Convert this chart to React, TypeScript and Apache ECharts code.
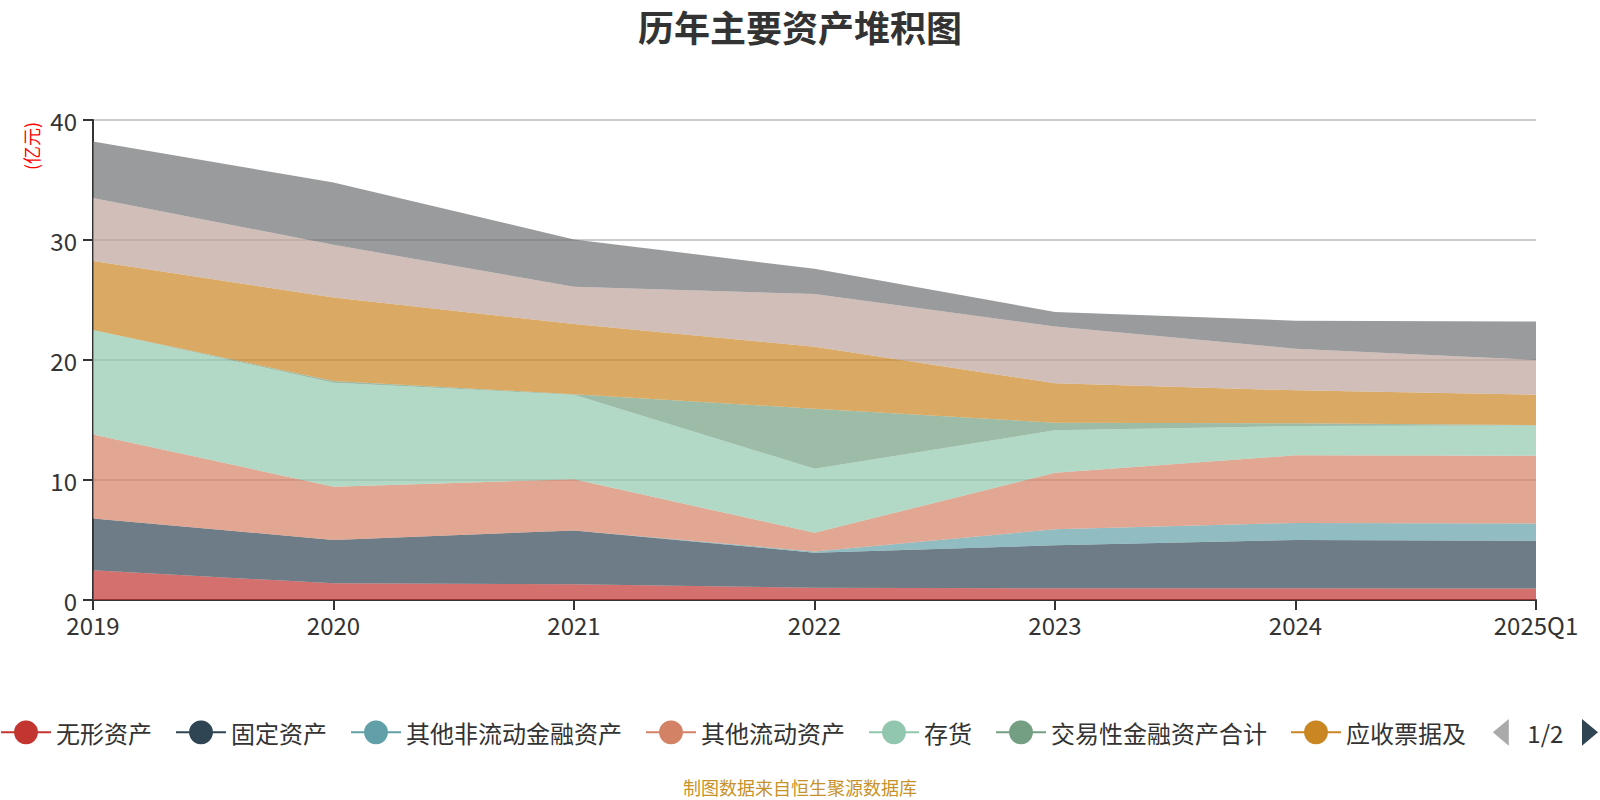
import React, { useEffect, useRef } from "react";
import * as echarts from "echarts";

const categories = ["2019", "2020", "2021", "2022", "2023", "2024", "2025Q1"];
const seriesNames = [
  "无形资产",
  "固定资产",
  "其他非流动金融资产",
  "其他流动资产",
  "存货",
  "交易性金融资产合计",
  "应收票据及",
  "应收账款",
  "货币资金",
];
const intangible = [2.47, 1.39, 1.31, 1.03, 0.97, 0.97, 0.96];
const fixedAssets = [4.33, 3.61, 4.49, 2.91, 3.59, 4.03, 3.97];
const otherNonCurrentFin = [0, 0, 0, 0.1, 1.34, 1.42, 1.44];
const otherCurrent = [7.0, 4.44, 4.26, 1.56, 4.7, 5.64, 5.66];
const inventory = [8.7, 8.66, 7.04, 5.34, 3.54, 2.44, 2.51];
const tradingFin = [0, 0.15, 0.05, 5.0, 0.64, 0.22, 0.03];
const notesReceivable = [5.75, 6.95, 5.85, 5.16, 3.28, 2.75, 2.53];
const accountsReceivable = [5.25, 4.4, 3.1, 4.4, 4.74, 3.47, 2.9];
const cash = [4.7, 5.2, 3.95, 2.1, 1.2, 2.34, 3.2];
const seriesValues = [
  intangible,
  fixedAssets,
  otherNonCurrentFin,
  otherCurrent,
  inventory,
  tradingFin,
  notesReceivable,
  accountsReceivable,
  cash,
];
const yTicks = { min: 0, max: 40, interval: 10 };
const palette = [
  "#c23531",
  "#2f4554",
  "#61a0a8",
  "#d48265",
  "#91c7ae",
  "#749f83",
  "#ca8622",
  "#bda29a",
  "#6e7074",
];

const FONT = "'Noto Sans CJK SC', 'Noto Sans', sans-serif";

export default function App() {
  const ref = useRef<HTMLDivElement>(null);
  useEffect(() => {
    document.body.style.margin = "0";
    if (!ref.current) return;
    const chart = echarts.init(ref.current, null, { renderer: "svg" });
    chart.setOption({
      animation: false,
      color: palette,
      textStyle: { fontFamily: FONT },
      title: {
        text: "历年主要资产堆积图",
        left: "center",
        top: 3,
        textStyle: { fontSize: 36, fontWeight: "bold", color: "#333", fontFamily: FONT },
      },
      grid: { left: 93, right: 64, top: 120, bottom: 200, containLabel: false },
      legend: {
        type: "scroll",
        left: 0,
        right: 0,
        top: 714,
        padding: [5, 2, 5, 0],
        itemWidth: 50,
        itemHeight: 30,
        itemGap: 23,
        textStyle: { fontSize: 24, color: "#333", fontFamily: FONT },
        lineStyle: { width: 2, opacity: 1 },
        pageIconSize: [16, 28],
        pageIconColor: "#2f4554",
        pageIconInactiveColor: "#aaa",
        pageTextStyle: { fontSize: 24, color: "#333", fontFamily: FONT },
        pageButtonItemGap: 8,
        pageButtonGap: 14,
        data: seriesNames,
      },
      xAxis: {
        type: "category",
        data: categories,
        boundaryGap: false,
        axisLine: { lineStyle: { color: "#333", width: 2 } },
        axisTick: { length: 10, lineStyle: { color: "#333", width: 2 } },
        axisLabel: { fontSize: 24, color: "#333", margin: 12, fontFamily: FONT },
      },
      yAxis: {
        type: "value",
        min: yTicks.min,
        max: yTicks.max,
        interval: yTicks.interval,
        axisLine: { show: true, lineStyle: { color: "#333", width: 2 } },
        axisTick: { show: true, length: 10, lineStyle: { color: "#333", width: 2 } },
        axisLabel: { fontSize: 24, color: "#333", margin: 16, fontFamily: FONT },
        splitLine: { lineStyle: { color: "#ccc", width: 2 } },
      },
      graphic: [
        {
          type: "text",
          x: 31,
          y: 146,
          rotation: Math.PI / 2,
          style: {
            text: "(亿元)",
            fill: "#ff0000",
            fontSize: 18,
            fontFamily: FONT,
            align: "center",
            verticalAlign: "middle",
          },
        },
        {
          type: "text",
          left: "center",
          top: 778,
          style: {
            text: "制图数据来自恒生聚源数据库",
            fill: "#c8922a",
            fontSize: 18,
            fontFamily: FONT,
          },
        },
      ],
      series: seriesNames.map((name, i) => ({
        name,
        type: "line",
        stack: "total",
        data: seriesValues[i],
        symbol: "circle",
        showSymbol: false,
        lineStyle: { width: 0 },
        areaStyle: { opacity: 0.7 },
        emphasis: { disabled: true },
      })),
    });
    return () => chart.dispose();
  }, []);
  return <div ref={ref} style={{ width: 1600, height: 800 }} />;
}
